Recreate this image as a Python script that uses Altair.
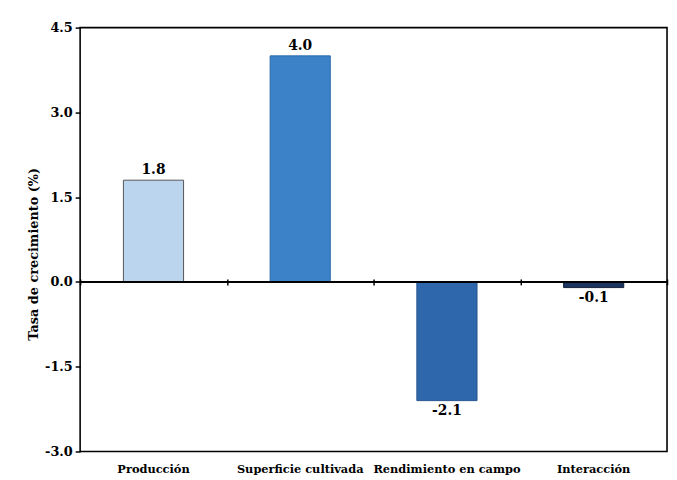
import altair as alt
import pandas as pd

categories = ["Producción", "Superficie cultivada", "Rendimiento en campo", "Interacción"]
values = [1.8, 4.0, -2.1, -0.1]
labels = ["1.8", "4.0", "-2.1", "-0.1"]
colors = ["#bcd5ee", "#3c82c8", "#2f67ad", "#1b3560"]
strokes = ["#555555", "#2a6aaa", "#24528c", "#111f3a"]
y_ticks = [-3.0, -1.5, 0.0, 1.5, 3.0, 4.5]

df = pd.DataFrame({"cat": categories, "val": values, "lab": labels,
                   "col": colors, "stk": strokes})

FONT = "DejaVu Serif"
W, H = 594, 429
ymin, ymax = -3.0, 4.5
zero_px = H * (ymax - 0) / (ymax - ymin)

x_main = alt.X("cat:N", sort=categories,
               scale=alt.Scale(paddingInner=0.59, paddingOuter=0.295),
               axis=alt.Axis(title=None, orient="bottom", domain=False, ticks=False,
                             labelPadding=12, labelAngle=0))
x_plain = alt.X("cat:N", sort=categories)
y = alt.Y("val:Q", scale=alt.Scale(domain=[ymin, ymax], nice=False, zero=False),
          axis=alt.Axis(title="Tasa de crecimiento (%)", values=y_ticks,
                        labelExpr="replace(format(datum.value, '.1f'), '\u2212', '-')",
                        grid=False, domain=False, tickSize=5, labelPadding=3,
                        titleX=-47, titleY=229,
                        titleBaseline="middle", titleAlign="center"))

bars = alt.Chart(df).mark_bar(strokeWidth=1).encode(
    x=x_main, y=y, y2=alt.datum(0),
    color=alt.Color("col:N", scale=None),
    stroke=alt.Stroke("stk:N", scale=None),
)

zero = alt.Chart(df).mark_rule(color="#000", strokeWidth=1.6).encode(y=alt.datum(0))

txt_pos = alt.Chart(df[df["val"] >= 0]).mark_text(
    font=FONT, fontWeight="bold", fontSize=14, color="#000", baseline="bottom", dy=-3
).encode(x=x_plain, y="val:Q", text="lab:N")

txt_neg = alt.Chart(df[df["val"] < 0]).mark_text(
    font=FONT, fontWeight="bold", fontSize=14, color="#000", baseline="top", dy=4
).encode(x=x_plain, y="val:Q", text="lab:N")

main = alt.layer(bars, zero, txt_pos, txt_neg)

# invisible layer carrying the category-boundary ticks on the zero line
ticks = alt.Chart(df).mark_bar(opacity=0).encode(
    x=alt.X("cat:N", sort=categories,
            scale=alt.Scale(paddingInner=0, paddingOuter=0),
            axis=alt.Axis(title=None, orient="top", offset=-zero_px - 3, domain=False,
                          labels=False, tickBand="extent", tickSize=6)),
    y=y,
)

chart = alt.layer(main, ticks).resolve_scale(
    x="independent"
).properties(
    width=W, height=H,
    autosize=alt.AutoSizeParams(type="none"),
    padding={"left": 73, "top": 17, "right": 2, "bottom": 24},
).configure(background="white").configure_view(
    stroke="#000", strokeWidth=1.6
).configure_axis(
    labelFont=FONT, labelFontWeight="bold", labelColor="#000",
    titleFont=FONT, titleFontWeight="bold", titleColor="#000",
    tickColor="#000", tickWidth=1.5,
).configure_axisX(
    labelFontSize=11.5,
).configure_axisY(
    labelFontSize=13, titleFontSize=13,
)

chart.save("out.html", embed_options={"renderer": "svg", "actions": False})
